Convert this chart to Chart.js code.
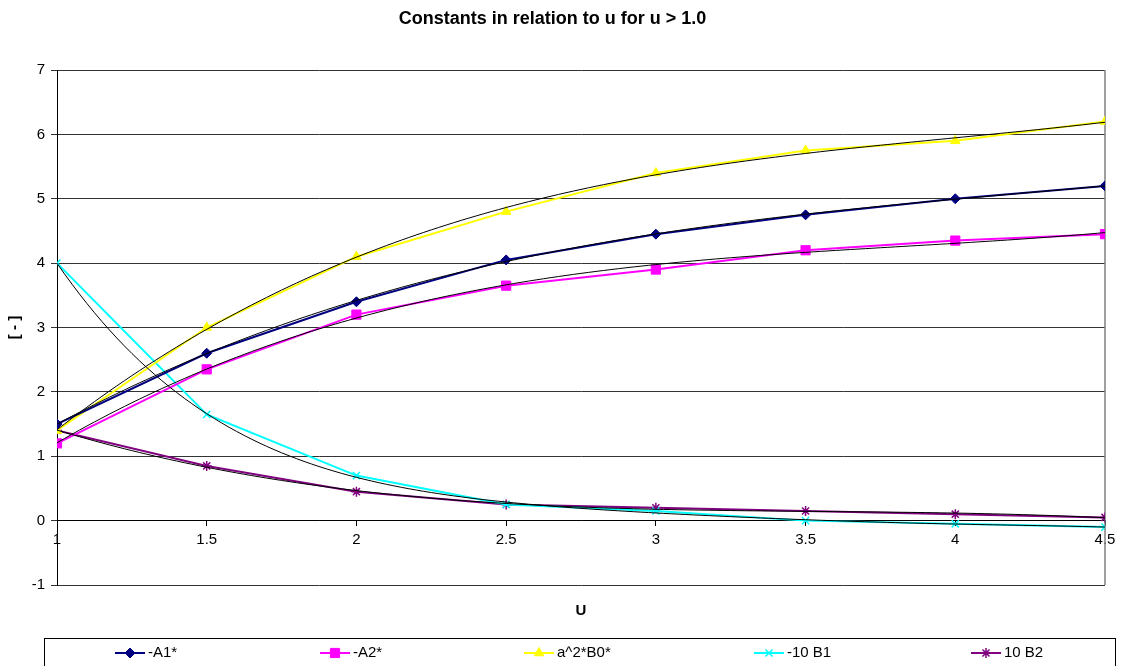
<!DOCTYPE html>
<html>
<head>
<meta charset="utf-8">
<script src="https://cdn.jsdelivr.net/npm/chart.js@4.4.1/dist/chart.umd.min.js"></script>
<style>
  html, body { margin: 0; background: #fff; }
</style>
</head>
<body>
<canvas id="chart" width="1125" height="666"></canvas>
<script>
"use strict";

// Data ----------------------------------------------------------------------
const U = [1, 1.5, 2, 2.5, 3, 3.5, 4, 4.5];
const A1 = [1.5, 2.6, 3.4, 4.05, 4.45, 4.75, 5.0, 5.2];
const A2 = [1.2, 2.35, 3.2, 3.65, 3.9, 4.2, 4.35, 4.45];
const B0 = [1.4, 3.0, 4.1, 4.8, 5.4, 5.75, 5.9, 6.2];
const B1 = [4.0, 1.65, 0.7, 0.25, 0.15, 0.0, -0.05, -0.1];
const B2 = [1.4, 0.85, 0.45, 0.25, 0.2, 0.15, 0.1, 0.05];

const LABELS = ["-A1*", "-A2*", "a^2*B0*", "-10 B1", "10 B2"];
const VALUES = [A1, A2, B0, B1, B2];
const COLORS = ["#000080", "#ff00ff", "#ffff00", "#00ffff", "#800080"];
const MARKERS = ["rectRot", "rect", "triangle", "crossRot", "star"];
const MARKER_SIZE = [5, 6.5, 5.5, 5, 5];
// polynomial order of the black trendline per series
const TREND_ORDER = [3, 3, 3, 5, 3];

const FONT = "'Liberation Sans', Arial, sans-serif";
Chart.defaults.font.family = FONT;
Chart.defaults.color = "#000";

// Least-squares polynomial fit ----------------------------------------------
function polyFit(xs, ys, deg) {
  const n = deg + 1;
  const A = Array.from({ length: n }, () => new Array(n + 1).fill(0));
  for (let k = 0; k < xs.length; k++) {
    for (let i = 0; i < n; i++) {
      for (let j = 0; j < n; j++) A[i][j] += Math.pow(xs[k], i + j);
      A[i][n] += ys[k] * Math.pow(xs[k], i);
    }
  }
  for (let i = 0; i < n; i++) {
    let p = i;
    for (let r = i + 1; r < n; r++) if (Math.abs(A[r][i]) > Math.abs(A[p][i])) p = r;
    [A[i], A[p]] = [A[p], A[i]];
    for (let r = i + 1; r < n; r++) {
      const f = A[r][i] / A[i][i];
      for (let c = i; c <= n; c++) A[r][c] -= f * A[i][c];
    }
  }
  const coef = new Array(n).fill(0);
  for (let i = n - 1; i >= 0; i--) {
    let s = A[i][n];
    for (let c = i + 1; c < n; c++) s -= A[i][c] * coef[c];
    coef[i] = s / A[i][i];
  }
  return coef;
}

function trendPoints(ys, deg) {
  const coef = polyFit(U, ys, deg);
  const pts = [];
  const lo = U[0], hi = U[U.length - 1];
  for (let i = 0; i <= 140; i++) {
    const x = lo + (hi - lo) * i / 140;
    let y = 0;
    for (let c = coef.length - 1; c >= 0; c--) y = y * x + coef[c];
    pts.push({ x, y });
  }
  return pts;
}

// Datasets ------------------------------------------------------------------
const series = VALUES.map((vals, i) => ({
  label: LABELS[i],
  data: vals.map((v, k) => ({ x: U[k], y: v })),
  borderColor: COLORS[i],
  backgroundColor: COLORS[i],
  borderWidth: 2,
  pointStyle: MARKERS[i],
  pointRadius: MARKER_SIZE[i],
  pointBorderWidth: MARKERS[i] === "crossRot" || MARKERS[i] === "star" ? 1.5 : 1,
  tension: 0,
  order: 1,
}));

const trends = VALUES.map((vals, i) => ({
  label: "trend " + LABELS[i],
  data: trendPoints(vals, TREND_ORDER[i]),
  borderColor: "#000",
  borderWidth: 1,
  pointRadius: 0,
  tension: 0,
  order: 0,
}));

// Legend box, x-axis title and right frame line ------------------------------
const LEGEND_X = [115, 320, 524, 754, 971];

const decorations = {
  id: "decorations",
  beforeDatasetsDraw(chart) {
    const { ctx, chartArea } = chart;
    ctx.save();
    ctx.strokeStyle = "#808080";
    ctx.lineWidth = 1.5;
    ctx.beginPath();
    ctx.moveTo(chartArea.right, chartArea.top);
    ctx.lineTo(chartArea.right, chartArea.bottom);
    ctx.stroke();
    ctx.restore();
  },
  afterDraw(chart) {
    const { ctx, chartArea } = chart;
    ctx.save();
    ctx.fillStyle = "#000";
    ctx.font = "bold 15px " + FONT;
    ctx.textAlign = "center";
    ctx.textBaseline = "middle";
    ctx.fillText("U", (chartArea.left + chartArea.right) / 2, 611);

    ctx.strokeStyle = "#000";
    ctx.lineWidth = 1;
    ctx.strokeRect(44.5, 638.5, 1071, 40);

    ctx.font = "15px " + FONT;
    ctx.textAlign = "left";
    const ly = 653;
    series.forEach((ds, i) => {
      const x0 = LEGEND_X[i];
      ctx.strokeStyle = ds.borderColor;
      ctx.fillStyle = ds.backgroundColor;
      ctx.lineWidth = 2;
      ctx.beginPath();
      ctx.moveTo(x0, ly);
      ctx.lineTo(x0 + 30, ly);
      ctx.stroke();
      ctx.lineWidth = ds.pointBorderWidth;
      Chart.helpers.drawPoint(ctx, {
        pointStyle: ds.pointStyle,
        radius: ds.pointRadius,
        rotation: 0,
        borderWidth: ds.pointBorderWidth,
      }, x0 + 15, ly);
      ctx.fillStyle = "#000";
      ctx.fillText(ds.label, x0 + 33, ly);
    });
    ctx.restore();
  },
};

// Chart ---------------------------------------------------------------------
new Chart(document.getElementById("chart"), {
  type: "line",
  data: { datasets: [...series, ...trends] },
  plugins: [decorations],
  options: {
    responsive: false,
    devicePixelRatio: 1,
    animation: false,
    layout: { padding: { left: 0, right: 20, top: 0, bottom: 81 } },
    plugins: {
      legend: { display: false },
      tooltip: { enabled: false },
      title: {
        display: true,
        text: "Constants in relation to u for u > 1.0",
        font: { size: 18, weight: "bold" },
        color: "#000",
        padding: { top: 8, bottom: 40.4 },
      },
    },
    scales: {
      x: {
        type: "linear",
        position: { y: 0 },
        min: 1,
        max: 4.5,
        ticks: {
          stepSize: 0.5,
          font: { size: 15 },
          padding: 5,
          maxRotation: 0,
          callback: (v) => String(v),
        },
        grid: { drawOnChartArea: false, tickLength: 5, color: "#000" },
        border: { color: "#000", width: 1 },
      },
      y: {
        min: -1,
        max: 7,
        ticks: { stepSize: 1, font: { size: 15 }, padding: 6 },
        grid: { color: "#333", tickLength: 6 },
        border: { color: "#000", width: 1 },
        title: {
          display: true,
          text: "[ - ]",
          font: { size: 15, weight: "bold" },
          padding: { top: 6, bottom: 0 },
        },
        afterFit(scale) { scale.width = 57; },
      },
    },
  },
});
</script>
</body>
</html>
